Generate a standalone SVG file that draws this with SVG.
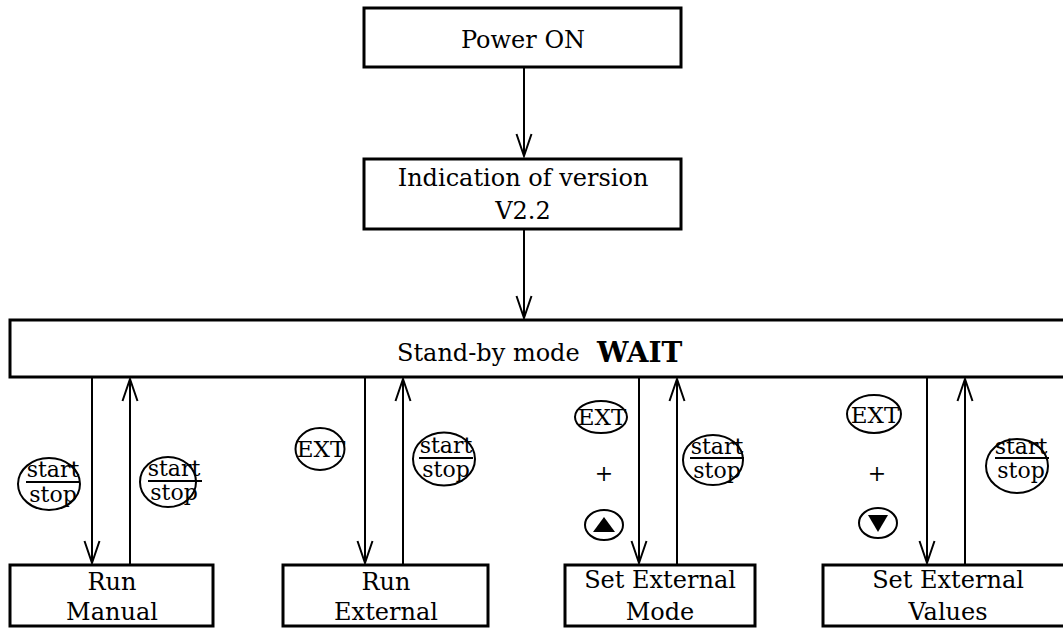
<svg xmlns="http://www.w3.org/2000/svg" width="1063" height="628" viewBox="0 0 1063 628">
<style>
.box{fill:#fff;stroke:#000;stroke-width:3}
.t{font-family:"DejaVu Serif",serif;font-size:24px;fill:#000;text-anchor:middle}
.s{font-family:"DejaVu Serif",serif;font-size:22px;fill:#000;text-anchor:middle}
.e{font-family:"DejaVu Serif",serif;font-size:23px;fill:#000;text-anchor:middle}
.ell{fill:none;stroke:#000;stroke-width:2}
.ul{stroke:#000;stroke-width:2.2}
.c{fill:none;stroke:#000;stroke-width:2}
</style>
<defs>
<marker id="arr" markerUnits="userSpaceOnUse" orient="auto" refX="0" refY="0" markerWidth="30" markerHeight="20" viewBox="-24 -10 26 20" overflow="visible">
<path d="M-22,-7.5 L0,0 L-22,7.5" fill="none" stroke="#000" stroke-width="2"/>
</marker>
</defs>
<g id="power-on">
<rect class="box" x="364" y="8" width="317" height="59"/>
<text class="t" x="523" y="48">Power ON</text>
</g>
<g id="version">
<rect class="box" x="364" y="159" width="317" height="70"/>
<text class="t" x="523" y="186">Indication of version</text>
<text class="t" x="523" y="219">V2.2</text>
</g>
<g id="wait">
<rect class="box" x="10" y="320" width="1065" height="57"/>
<text font-family="DejaVu Serif, serif" font-size="24" fill="#000" x="397" y="361">Stand-by mode</text>
<text font-family="DejaVu Serif, serif" font-size="28" font-weight="bold" fill="#000" x="597" y="362">WAIT</text>
</g>
<g id="run-manual">
<rect class="box" x="10" y="565" width="203" height="61"/>
<text class="t" x="112" y="590">Run</text>
<text class="t" x="112" y="620">Manual</text>
</g>
<g id="run-external">
<rect class="box" x="283" y="565" width="205" height="61"/>
<text class="t" x="386" y="590">Run</text>
<text class="t" x="386" y="620">External</text>
</g>
<g id="set-external-mode">
<rect class="box" x="565" y="565" width="190" height="61"/>
<text class="t" x="660" y="588">Set External</text>
<text class="t" x="660" y="620">Mode</text>
</g>
<g id="set-external-values">
<rect class="box" x="823" y="565" width="250" height="61"/>
<text class="t" x="948" y="588">Set External</text>
<text class="t" x="948" y="620">Values</text>
</g>
<g id="connectors" class="c">
<line x1="524" y1="67" x2="524" y2="156" marker-end="url(#arr)"/>
<line x1="524" y1="229" x2="524" y2="318" marker-end="url(#arr)"/>
<line x1="92" y1="378" x2="92" y2="563" marker-end="url(#arr)"/>
<line x1="130" y1="565" x2="130" y2="379" marker-end="url(#arr)"/>
<line x1="365" y1="378" x2="365" y2="563" marker-end="url(#arr)"/>
<line x1="403" y1="565" x2="403" y2="379" marker-end="url(#arr)"/>
<line x1="639" y1="378" x2="639" y2="563" marker-end="url(#arr)"/>
<line x1="677" y1="565" x2="677" y2="379" marker-end="url(#arr)"/>
<line x1="927" y1="378" x2="927" y2="563" marker-end="url(#arr)"/>
<line x1="965" y1="565" x2="965" y2="379" marker-end="url(#arr)"/>
</g>
<g id="key-labels">
<g id="ss1">
<ellipse class="ell" cx="49" cy="484" rx="31" ry="26"/>
<text class="s" x="53" y="477">start</text>
<line class="ul" x1="26" y1="482" x2="80" y2="482"/>
<text class="s" x="53" y="502">stop</text>
</g>
<g id="ss2">
<ellipse class="ell" cx="168" cy="482" rx="28" ry="25"/>
<text class="s" x="174" y="476">start</text>
<line class="ul" x1="148" y1="481" x2="202" y2="481"/>
<text class="s" x="174" y="500">stop</text>
</g>
<g id="ext2">
<ellipse class="ell" cx="320" cy="449" rx="24.5" ry="21"/>
<text class="e" x="321" y="457">EXT</text>
</g>
<g id="ss3">
<ellipse class="ell" cx="444" cy="459" rx="31" ry="26.5"/>
<text class="s" x="446" y="453">start</text>
<line class="ul" x1="419" y1="458" x2="473" y2="458"/>
<text class="s" x="446" y="477">stop</text>
</g>
<g id="ext3">
<ellipse class="ell" cx="601" cy="417" rx="26" ry="16"/>
<text class="e" x="602" y="425">EXT</text>
<text class="s" x="604" y="481" font-size="18">+</text>
<ellipse class="ell" cx="604" cy="525" rx="19" ry="15"/>
<polygon points="593,532 615,532 604,517" fill="#000"/>
</g>
<g id="ss4">
<ellipse class="ell" cx="713" cy="460" rx="30" ry="25"/>
<text class="s" x="717" y="454">start</text>
<line class="ul" x1="690" y1="458" x2="744" y2="458"/>
<text class="s" x="717" y="478">stop</text>
</g>
<g id="ext4">
<ellipse class="ell" cx="874" cy="414" rx="27" ry="19"/>
<text class="e" x="875" y="423">EXT</text>
<text class="s" x="877" y="481" font-size="18">+</text>
<ellipse class="ell" cx="878" cy="523" rx="19" ry="15"/>
<polygon points="868,515 888,515 878,532" fill="#000"/>
</g>
<g id="ss5">
<ellipse class="ell" cx="1017" cy="466" rx="31" ry="27"/>
<text class="s" x="1021" y="454">start</text>
<line class="ul" x1="995" y1="458" x2="1049" y2="458"/>
<text class="s" x="1021" y="478">stop</text>
</g>
</g>
</svg>
